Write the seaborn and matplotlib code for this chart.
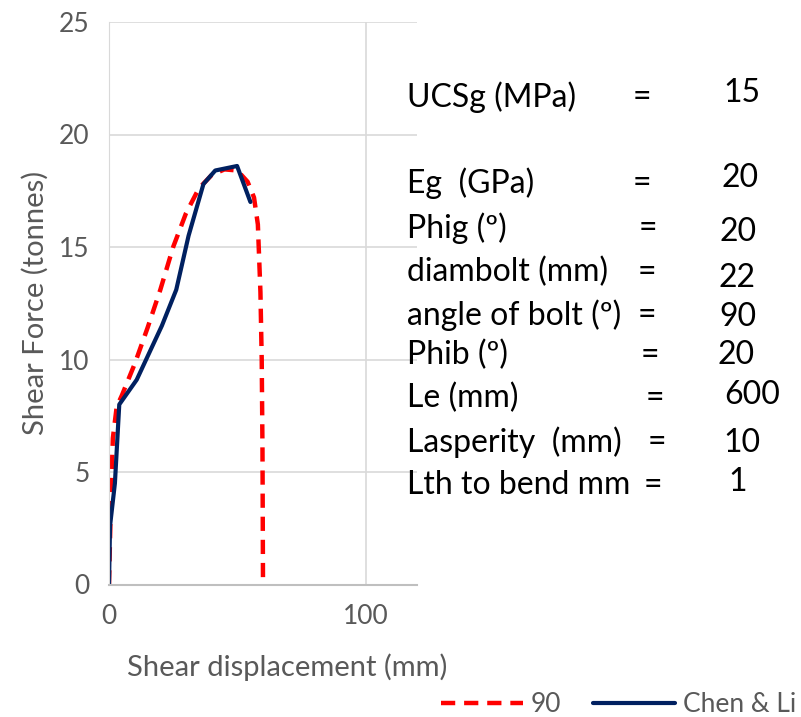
import numpy as np
import pandas as pd
import matplotlib
matplotlib.use("Agg")
import matplotlib.pyplot as plt
import seaborn as sns

# shear curves
disp_90 = [0, 0.3, 0.8, 1.5, 3.0, 5.0, 10.0, 15.0, 20.0, 25.0, 30.0, 35.0, 40.0, 45.0, 50.0, 54.0, 56.5, 58.0, 59.0, 59.5, 59.8, 60.0]
force_90 = [0, 1.5, 4.0, 6.5, 7.9, 8.4, 9.8, 11.4, 13.1, 15.0, 16.5, 17.6, 18.2, 18.45, 18.4, 17.9, 17.2, 16.0, 13.0, 10.0, 6.0, 0]

disp_chen = [0, 0.4, 2.3, 4.0, 10.8, 20.6, 26.2, 31.0, 36.8, 41.4, 49.9, 55.1]
force_chen = [0, 2.6, 4.5, 8.0, 9.1, 11.5, 13.1, 15.5, 17.8, 18.4, 18.6, 17.0]

# parameter box on the right
param_names = ["UCSg (MPa)", "Eg  (GPa)", "Phig (º)", "diambolt (mm)", "angle of bolt (º)",
               "Phib (º)", "Le (mm)", "Lasperity  (mm)", "Lth to bend mm"]
param_values = ["15", "20", "20", "22", "90", "20", "600", "10", "1"]

W, H = 801, 717
sns.set_style("white")
plt.rcParams["font.family"] = ["Lato", "DejaVu Sans"]

fig = plt.figure(figsize=(W / 100, H / 100), dpi=100)
ax = fig.add_axes([109 / W, (H - 584.5) / H, (417 - 109) / W, (584.5 - 22) / H])

df90 = pd.DataFrame({"disp": disp_90, "force": force_90})
dfchen = pd.DataFrame({"disp": disp_chen, "force": force_chen})

sns.lineplot(data=df90, x="disp", y="force", sort=False, color="#ff0000", lw=3.2,
             linestyle=(0, (3.2, 2.0)), label="90", ax=ax)
sns.lineplot(data=dfchen, x="disp", y="force", sort=False, color="#002060", lw=3,
             label="Chen & Li", ax=ax)

ax.set_xlim(0, 120)
ax.set_ylim(0, 25)
ax.set_xticks([0, 100])
ax.set_yticks([0, 5, 10, 15, 20, 25])
ax.grid(True, color="#d9d9d9", lw=1.2)
for s in ["top", "right"]:
    ax.spines[s].set_visible(False)
ax.spines["left"].set_color("#d9d9d9")
ax.spines["bottom"].set_color("#bfbfbf")
ax.spines["bottom"].set_linewidth(1.5)
ax.tick_params(axis="both", labelsize=19, colors="#595959", length=0, pad=14)
ax.set_xlabel("Shear displacement (mm)", fontsize=21, color="#595959")
ax.set_ylabel("Shear Force (tonnes)", fontsize=21, color="#595959")
ax.xaxis.set_label_coords((287 - 109) / 308, (584.5 - 667) / 562.5)
ax.yaxis.set_label_coords((35 - 109) / 308, 0.5)
ax.xaxis.label.set_va("center")
ax.yaxis.label.set_va("center")

ax.legend(loc="center left", bbox_to_anchor=(441 / W, 1 - 705 / H), bbox_transform=fig.transFigure,
          ncol=2, frameon=False, fontsize=19, handlelength=3.1, columnspacing=1.2,
          handletextpad=0.3, labelcolor="#595959", borderaxespad=0, borderpad=0)

# parameter text, positions in pixels
name_y = [97, 183, 228, 272, 315, 355, 398, 442, 485]
eq_x = [642, 642, 648, 647, 647, 650, 655, 657, 653]
val_x = [742, 740, 738, 737, 738, 736, 752, 742, 738]
val_y = [93, 178, 232, 278, 317, 355, 395, 443, 482]
for i in range(len(param_names)):
    fig.text(407 / W, 1 - name_y[i] / H, param_names[i], fontsize=23,
             ha="left", va="center", color="black")
    fig.text(eq_x[i] / W, 1 - name_y[i] / H, "=", fontsize=23,
             ha="center", va="center", color="black")
    fig.text(val_x[i] / W, 1 - val_y[i] / H, param_values[i], fontsize=23,
             ha="center", va="center", color="black")

fig.savefig("out.png", dpi=100)
